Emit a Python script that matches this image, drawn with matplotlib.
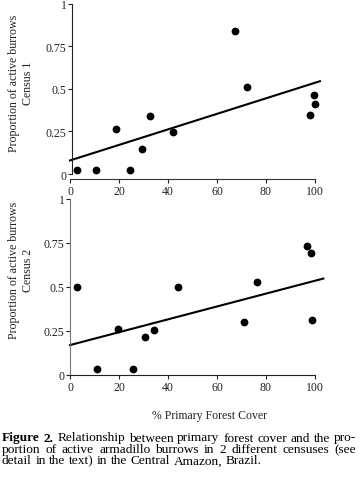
import matplotlib
matplotlib.use("Agg")
import matplotlib.pyplot as plt
import numpy as np

plt.rcParams['font.family'] = ['Liberation Serif', 'DejaVu Serif']

# ---- data ----
forest1 = [2.7, 10.5, 18.8, 24.6, 29.3, 32.8, 41.9, 67.5, 72.2, 99.6, 100.0, 98.1]
census1 = [0.023, 0.023, 0.265, 0.023, 0.145, 0.34, 0.245, 0.84, 0.51, 0.465, 0.41, 0.345]
fit1_x = [0, 102]
fit1_y = [0.08, 0.545]

forest2 = [2.7, 10.9, 19.6, 25.7, 30.5, 34.4, 44.0, 71.1, 76.3, 96.6, 98.2, 98.6]
census2 = [0.50, 0.035, 0.26, 0.035, 0.215, 0.255, 0.50, 0.30, 0.53, 0.735, 0.695, 0.315]
fit2_x = [0, 103.4]
fit2_y = [0.17, 0.548]

xticks = [0, 20, 40, 60, 80, 100]
yticks = [0, 0.25, 0.5, 0.75, 1]
yticklabels = ['0', '0.25', '0.5', '0.75', '1']

W, H = 359, 489
fig = plt.figure(figsize=(W / 100, H / 100), dpi=100)

def px_axes(left, bottom_px, width, height):
    return fig.add_axes([left / W, (H - bottom_px) / H, width / W, height / H])

def style(ax, ymin, xspine_y, ycolor, xcolor):
    ax.set_xlim(0, 104)
    ax.set_ylim(ymin, 1.0)
    for s in ['top', 'right']:
        ax.spines[s].set_visible(False)
    ax.spines['left'].set_bounds(0, 1)
    ax.spines['left'].set_color(ycolor)
    ax.spines['bottom'].set_bounds(0, 100)
    ax.spines['bottom'].set_color(xcolor)
    ax.spines['bottom'].set_position(('data', xspine_y))
    ax.set_xticks(xticks)
    ax.set_yticks(yticks)
    ax.set_yticklabels(yticklabels)
    ax.tick_params(axis='both', labelsize=8.5, width=0.8, length=3,
                   direction='out', colors='#222')
    ax.tick_params(axis='y', pad=0.8)
    ax.tick_params(axis='x', pad=1.5)
    ax.patch.set_alpha(0)

# top panel
ax1 = px_axes(70, 180.2, 104 * 2.45, 175.5)
style(ax1, -0.03, -0.03, '#222', '#333')
ax1.spines['left'].set_position(('data', 0.8))
ax1.plot(fit1_x, fit1_y, color='black', lw=1.5, clip_on=False)
ax1.plot(forest1, census1, 'o', color='black', ms=4.6, clip_on=False)

# bottom panel
ax2 = px_axes(70, 376, 104 * 2.45, 176)
style(ax2, 0.0, 0.0, '#777', '#222')
ax2.plot(fit2_x, fit2_y, color='black', lw=1.5, clip_on=False)
ax2.plot(forest2, census2, 'o', color='black', ms=4.6, clip_on=False)

# y labels
fig.text(21 / W, 1 - 83 / H, 'Proportion of active burrows\nCensus 1', rotation=90,
         ha='center', va='center', multialignment='center', fontsize=8.6,
         color='#222', linespacing=1.2)
fig.text(21 / W, 1 - 270 / H, 'Proportion of active burrows\nCensus 2', rotation=90,
         ha='center', va='center', multialignment='center', fontsize=8.6,
         color='#222', linespacing=1.2)

# x label
fig.text(209 / W, 1 - 416 / H, '% Primary Forest Cover', ha='center', va='center',
         fontsize=8.5, color='#222')

# caption (justified)
renderer = fig.canvas.get_renderer()
cap_fs = 9.6
lines = [
    ([('Figure', 'bold'), ('2.', 'bold')] +
     [(w, 'normal') for w in 'Relationship between primary forest cover and the pro-'.split()], True, 441.5),
    ([(w, 'normal') for w in 'portion of active armadillo burrows in 2 different censuses (see'.split()], True, 453),
    ([(w, 'normal') for w in 'detail in the text) in the Central Amazon, Brazil.'.split()], False, 464.5),
]
x_left, x_right = 2, 356
sp_probe = fig.text(0, 0, 'a a', fontsize=cap_fs)
a_probe = fig.text(0, 0, 'a', fontsize=cap_fs)
space_w = sp_probe.get_window_extent(renderer).width - 2 * a_probe.get_window_extent(renderer).width
sp_probe.remove()
a_probe.remove()
for words, justify, base in lines:
    texts = []
    widths = []
    for w, wt in words:
        t = fig.text(0, 1 - base / H, w, fontsize=cap_fs, fontweight=wt,
                     ha='left', va='baseline', color='black')
        bb = t.get_window_extent(renderer)
        texts.append(t)
        widths.append(bb.width)
    if justify:
        gap = (x_right - x_left - sum(widths)) / (len(words) - 1)
    else:
        gap = space_w
    x = x_left
    for t, wdt in zip(texts, widths):
        t.set_x(x / W)
        x += wdt + gap

fig.savefig('out.png', dpi=100)
